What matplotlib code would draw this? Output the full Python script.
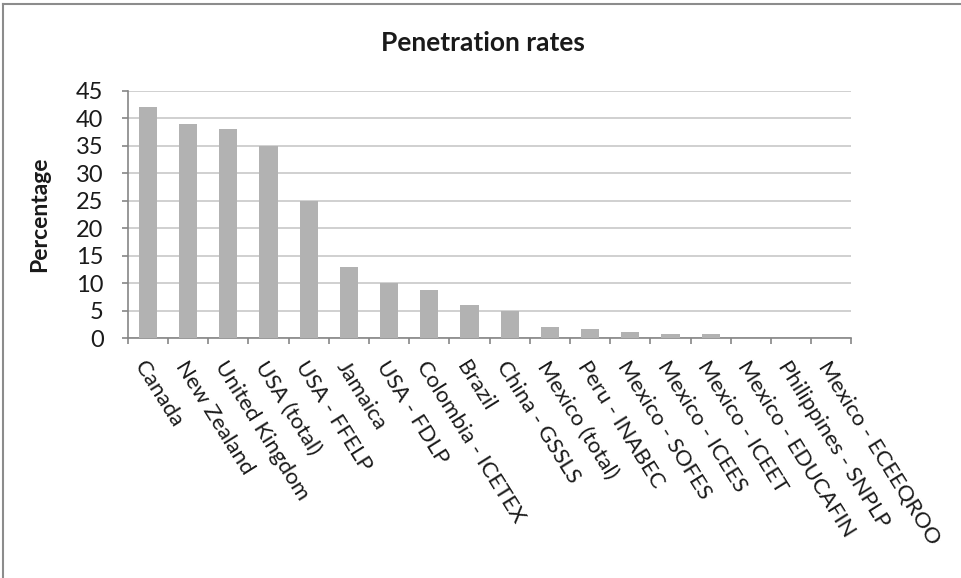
import matplotlib
matplotlib.use("Agg")
from matplotlib import pyplot as plt
from matplotlib.lines import Line2D
import numpy as np

plt.rcParams['font.family'] = ['Lato', 'DejaVu Sans']

categories = ["Canada", "New Zealand", "United Kingdom", "USA (total)", "USA - FFELP",
              "Jamaica", "USA - FDLP", "Colombia - ICETEX", "Brazil", "China - GSSLS",
              "Mexico (total)", "Peru - INABEC", "Mexico - SOFES", "Mexico - ICEES",
              "Mexico - ICEET", "Mexico - EDUCAFIN", "Philippines - SNPLP", "Mexico - ECEEQROO"]
rates = [42, 39, 38, 35, 25, 13, 10, 8.8, 6, 5, 2, 1.6, 1.2, 0.8, 0.8, 0, 0, 0]
yticks = [0, 5, 10, 15, 20, 25, 30, 35, 40, 45]

fig = plt.figure(figsize=(9.61, 5.78), dpi=100)
ax = fig.add_axes([0.133, 0.415, 0.753, 0.428])

xs = np.arange(len(categories))
ax.bar(xs, rates, width=0.45, color="#b2b2b2", zorder=3)

ax.set_xlim(-0.5, len(categories) - 0.5)
ax.set_ylim(0, 45)
ax.set_yticks(yticks)
ax.set_yticklabels([str(v) for v in yticks], fontsize=17, color="#1a1a1a")
ax.yaxis.grid(True, color="#c8c8c8", linewidth=1.2, zorder=0)

ax.set_xticks(xs)
ax.set_xticklabels(categories, rotation=-58, ha="left", va="top",
                   rotation_mode="anchor", fontsize=16, color="#1a1a1a")
ax.tick_params(axis="x", length=0, pad=14)
ax.set_xticks(np.arange(len(categories) + 1) - 0.5, minor=True)
ax.tick_params(axis="x", which="minor", length=4.5, color="#868686", width=1.2)
ax.tick_params(axis="y", length=4.5, color="#868686", width=1.2, pad=13)

for s in ["top", "right"]:
    ax.spines[s].set_visible(False)
for s in ["left", "bottom"]:
    ax.spines[s].set_color("#868686")
    ax.spines[s].set_linewidth(1.2)

ax.set_ylabel("Percentage", fontsize=16.5, fontweight="bold", color="#1a1a1a")
ax.yaxis.set_label_coords(-0.108, 0.5)
fig.text(0.503, 0.926, "Penetration rates", ha="center", va="center",
         fontsize=19, fontweight="bold", color="#1a1a1a")

# outer chart border (left and top edges visible)
fig.add_artist(Line2D([0.003, 0.003], [0.0, 0.993], transform=fig.transFigure,
                      color="#8c8c8c", linewidth=1.5))
fig.add_artist(Line2D([0.003, 1.0], [0.993, 0.993], transform=fig.transFigure,
                      color="#8c8c8c", linewidth=1.5))

plt.savefig("out.png", dpi=100)
plt.close()
